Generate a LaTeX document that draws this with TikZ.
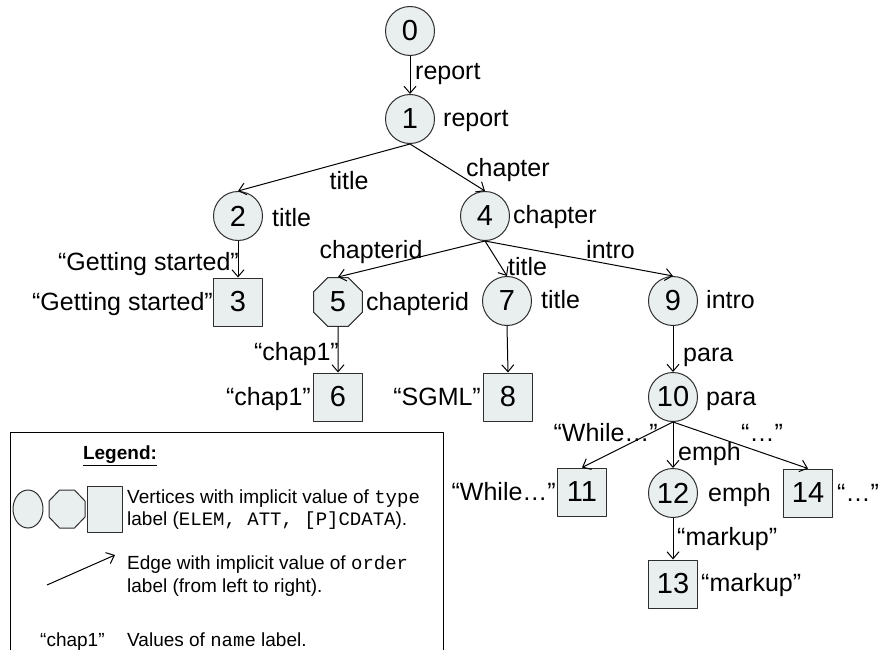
\documentclass[tikz,border=0pt]{standalone}
\usepackage{fontspec}
\setmainfont{Liberation Sans}
\setmonofont{Liberation Mono}
\usetikzlibrary{arrows.meta,shapes.geometric}
\definecolor{ink}{HTML}{000000}
\definecolor{vline}{HTML}{2E2E2E}
\definecolor{vfill}{HTML}{E9EEEE}
\newcommand{\figfontsize}{\fontsize{25}{30}\selectfont}
\newcommand{\vtxfontsize}{\fontsize{29}{34}\selectfont}
\newcommand{\legfontsize}{\fontsize{19}{23}\selectfont}
\tikzset{
  every picture/.style = {font=\figfontsize, line join=round},
  >                    = {Straight Barb[length=7pt, width=12pt]},
  vtx/.style           = {draw=vline, fill=vfill, line width=1pt, inner sep=0pt, font=\vtxfontsize},
  elem/.style          = {vtx, circle, minimum size=49pt},
  att/.style           = {vtx, regular polygon, regular polygon sides=8, minimum size=53pt},
  cdata/.style         = {vtx, rectangle, minimum width=49pt, minimum height=48pt},
  edge/.style          = {line width=1pt, ink, ->},
  lbl/.style           = {inner sep=0pt, text height=0.72em, text depth=0.2em, text=ink, yshift=-6pt},
  leg/.style           = {lbl, font=\legfontsize, yshift=2pt},
}

\begin{document}
\begin{tikzpicture}[x=1pt, y=-1pt]
  \useasboundingbox (0,0) rectangle (882,650);

  % ---------- vertices --------------------------------------------------------
  \node[elem]  (n0)  at (410,31)  {0};
  \node[elem]  (n1)  at (410,119) {1};
  \node[elem]  (n2)  at (238,216) {2};
  \node[elem]  (n4)  at (485,216) {4};
  \node[cdata] (n3)  at (238,302) {3};
  \node[att]   (n5)  at (338,302) {5};
  \node[elem]  (n7)  at (507,301) {7};
  \node[elem]  (n9)  at (673,301) {9};
  \node[cdata] (n6)  at (338,397) {6};
  \node[cdata] (n8)  at (508,397) {8};
  \node[elem]  (n10) at (673,397) {10};
  \node[cdata] (n11) at (582,492) {11};
  \node[elem]  (n12) at (673,493) {12};
  \node[cdata] (n14) at (808,493) {14};
  \node[cdata] (n13) at (673,584) {13};

  % ---------- edges, always bottom of parent to top of child ------------------
  \foreach \p/\c in {n0/n1, n1/n2, n1/n4, n2/n3, n4/n5, n4/n7, n4/n9,
                     n5/n6, n7/n8, n9/n10, n10/n11, n10/n12, n10/n14, n12/n13}
    \draw[edge] (\p.south) -- (\c.north);

  % edge labels (name of the child)
  \node[lbl, anchor=west]  (e01)   at (415,71)  {report};
  \node[lbl]               (e12)   at (349,181) {title};
  \node[lbl, anchor=west]  (e14)   at (466,168) {chapter};
  \node[lbl, anchor=east]  (e23)   at (239,262) {“Getting started”};
  \node[lbl]               (e45)   at (371,250) {chapterid};
  \node[lbl, anchor=west]  (e47)   at (508,267) {title};
  \node[lbl, anchor=west]  (e49)   at (586,250) {intro};
  \node[lbl, anchor=east]  (e56)   at (339,352) {“chap1”};
  \node[lbl, anchor=west]  (e910)  at (683,353) {para};
  \node[lbl, anchor=east]  (e1011) at (658,433) {“While\ldots”};
  \node[lbl, anchor=west]  (e1012) at (678,452) {emph};
  \node[lbl]               (e1014) at (762,433) {“\ldots”};
  \node[lbl, anchor=west]  (e1213) at (677,537) {“markup”};

  % vertex labels
  \node[lbl, anchor=west] (l1)  at (443,118) {report};
  \node[lbl, anchor=west] (l2)  at (272,218) {title};
  \node[lbl, anchor=west] (l4)  at (513,215) {chapter};
  \node[lbl, anchor=east] (l3)  at (213,302) {“Getting started”};
  \node[lbl, anchor=west] (l5)  at (366,302) {chapterid};
  \node[lbl, anchor=west] (l7)  at (541,300) {title};
  \node[lbl, anchor=west] (l9)  at (706,300) {intro};
  \node[lbl, anchor=east] (l6)  at (311,397) {“chap1”};
  \node[lbl, anchor=east] (l8)  at (481,397) {“SGML”};
  \node[lbl, anchor=west] (l10) at (706,397) {para};
  \node[lbl, anchor=east] (l11) at (556,492) {“While\ldots”};
  \node[lbl, anchor=west] (l12) at (708,493) {emph};
  \node[lbl, anchor=west] (l14) at (837,493) {“\ldots”};
  \node[lbl, anchor=west] (l13) at (701,583) {“markup”};

  % ---------- legend (box runs off the bottom) --------------------------------
  \draw[line width=1pt, ink] (10,650) -- (10,432) -- (443,432) -- (443,650);
  \node[leg] (legtitle) at (120,453) {\underline{\textbf{Legend:}}};

  \draw[vtx] (28,509) ellipse[x radius=15, y radius=19];
  \draw[vtx] (59.5,490) -- (74.5,490) -- (85,501) -- (85,517) -- (74.5,528)
             -- (59.5,528) -- (49,517) -- (49,501) -- cycle;
  \draw[vtx] (87,486) rectangle (122,532);
  \node[leg, anchor=west] (leg1a) at (127,497) {Vertices with implicit value of \texttt{type}};
  \node[leg, anchor=west] (leg1b) at (127,519) {label (\texttt{ELEM, ATT, [P]CDATA}).};

  \coordinate (arrtail) at (47,585);
  \coordinate (arrhead) at (115,555);
  \draw[edge] (arrtail) -- (arrhead);
  \node[leg, anchor=west] (leg2a) at (127,563) {Edge with implicit value of \texttt{order}};
  \node[leg, anchor=west] (leg2b) at (127,586) {label (from left to right).};

  \node[leg, anchor=west] (leg3a) at (40,640)  {“chap1”};
  \node[leg, anchor=west] (leg3b) at (127,640) {Values of \texttt{name} label.};
\end{tikzpicture}
\end{document}
